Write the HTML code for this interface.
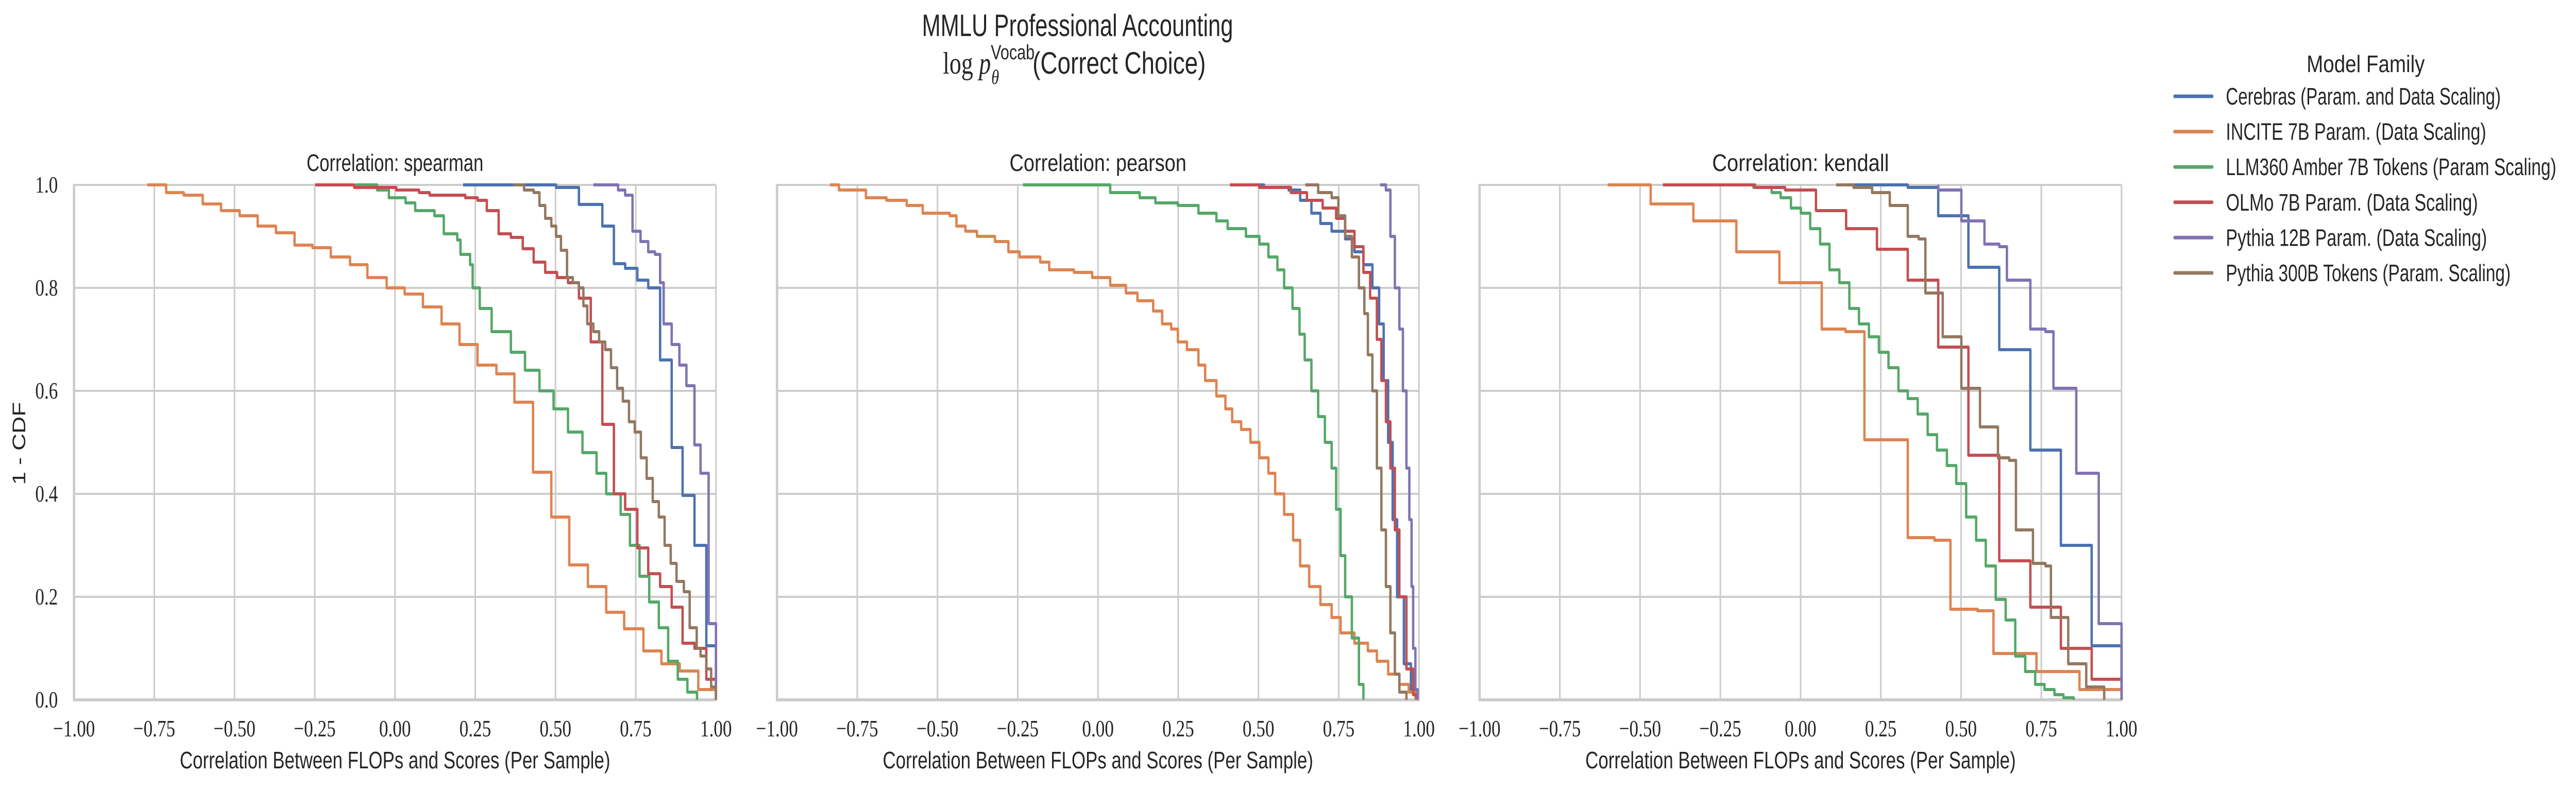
<!DOCTYPE html>
<html><head><meta charset="utf-8"><style>
html,body{margin:0;padding:0;background:#fff;overflow:hidden;width:100vw;height:100vh;}
svg{display:block;width:100vw;height:100vh;}
</style></head><body>
<svg id="fig" viewBox="0 0 6541 1536" preserveAspectRatio="none" xmlns="http://www.w3.org/2000/svg">
<rect width="6541" height="1536" fill="#fff"/>
<g font-family="'Liberation Sans', sans-serif" fill="#262626" text-anchor="middle">
<text x="2736" y="70" font-size="60" textLength="790" lengthAdjust="spacingAndGlyphs">MMLU Professional Accounting</text>
<text x="2728" y="143" font-size="60"><tspan font-family="'Liberation Serif', serif">log </tspan><tspan font-family="'Liberation Serif', serif" font-style="italic">p</tspan><tspan font-size="40" dy="-28">Vocab</tspan><tspan font-size="40" dy="48" dx="-110" font-family="'Liberation Serif', serif" font-style="italic">θ</tspan><tspan dy="-20" dx="85">(Correct Choice)</tspan></text>
</g>
<g id="panels"></g>
<g id="legend"></g>
</svg>
<script>
const seriesNames = ["Cerebras (Param. and Data Scaling)","INCITE 7B Param. (Data Scaling)","LLM360 Amber 7B Tokens (Param Scaling)","OLMo 7B Param. (Data Scaling)","Pythia 12B Param. (Data Scaling)","Pythia 300B Tokens (Param. Scaling)"];
const seriesColors = ["#4c72b0","#dd8452","#55a868","#c44e52","#8172b3","#937860"];
const panelTitles = ["Correlation: spearman","Correlation: pearson","Correlation: kendall"];
const xTicks = [-1,-0.75,-0.5,-0.25,0,0.25,0.5,0.75,1];
const xTickLabels = ["\u22121.00","\u22120.75","\u22120.50","\u22120.25","0.00","0.25","0.50","0.75","1.00"];
const yTicks = [0,0.2,0.4,0.6,0.8,1.0];
const yTickLabels = ["0.0","0.2","0.4","0.6","0.8","1.0"];

// spearman
const spCerebrasStart = 0.212;
const spCerebrasX = [0.502,0.573,0.646,0.682,0.717,0.755,0.789,0.826,0.862,0.896,0.933,0.970,1.0];
const spCerebrasY = [0.995,0.962,0.92,0.847,0.838,0.815,0.80,0.66,0.49,0.397,0.30,0.105,0];
const spInciteStart = -0.772;
const spInciteX = [-0.713,-0.658,-0.599,-0.542,-0.484,-0.428,-0.371,-0.313,-0.257,-0.2,-0.14,-0.086,-0.026,0.03,0.087,0.145,0.201,0.257,0.316,0.372,0.43,0.487,0.543,0.601,0.658,0.714,0.774,0.83,0.887,0.945,1.0];
const spInciteY = [0.985,0.98,0.963,0.95,0.94,0.92,0.907,0.883,0.878,0.86,0.845,0.82,0.80,0.788,0.763,0.73,0.69,0.65,0.633,0.578,0.442,0.355,0.262,0.22,0.17,0.138,0.095,0.07,0.056,0.02,0];
const spAmberStart = -0.123;
const spAmberX = [-0.056,-0.019,0.033,0.063,0.123,0.152,0.194,0.204,0.234,0.242,0.264,0.301,0.361,0.405,0.450,0.494,0.539,0.584,0.628,0.658,0.703,0.732,0.762,0.792,0.822,0.851,0.881,0.911,0.941];
const spAmberY = [0.99,0.975,0.965,0.95,0.94,0.905,0.893,0.865,0.845,0.80,0.76,0.715,0.675,0.64,0.60,0.565,0.52,0.48,0.44,0.40,0.36,0.30,0.24,0.19,0.14,0.075,0.04,0.015,0];
const spOlmoStart = -0.249;
const spOlmoX = [-0.127,0.004,0.075,0.108,0.219,0.257,0.286,0.323,0.361,0.398,0.432,0.468,0.505,0.539,0.573,0.610,0.646,0.682,0.717,0.755,0.789,0.826,0.862,0.896,0.933,0.970,1.0];
const spOlmoY = [0.995,0.99,0.985,0.98,0.975,0.97,0.95,0.905,0.898,0.876,0.85,0.83,0.82,0.81,0.78,0.695,0.535,0.40,0.37,0.295,0.245,0.22,0.18,0.11,0.10,0.04,0];
const spP12Start = 0.618;
const spP12X = [0.695,0.717,0.740,0.765,0.789,0.81,0.826,0.837,0.862,0.886,0.908,0.933,0.952,0.977,1.0];
const spP12Y = [0.99,0.98,0.91,0.89,0.87,0.865,0.81,0.73,0.69,0.65,0.61,0.495,0.44,0.148,0];
const spP300Start = 0.368;
const spP300X = [0.402,0.432,0.45,0.468,0.487,0.502,0.517,0.536,0.554,0.573,0.587,0.599,0.618,0.636,0.655,0.673,0.692,0.710,0.729,0.747,0.766,0.784,0.803,0.822,0.840,0.859,0.877,0.900,0.918,0.94,0.952,0.970,0.985,1.0];
const spP300Y = [0.99,0.985,0.96,0.935,0.92,0.90,0.873,0.82,0.81,0.80,0.765,0.73,0.715,0.695,0.68,0.645,0.605,0.58,0.54,0.52,0.47,0.43,0.385,0.355,0.30,0.265,0.23,0.21,0.14,0.10,0.085,0.06,0.025,0];

// pearson
const peCerebrasStart = 0.411;
const peCerebrasX = [0.517,0.594,0.630,0.665,0.693,0.728,0.770,0.799,0.827,0.855,0.876,0.890,0.904,0.918,0.932,0.953,0.975,0.993];
const peCerebrasY = [0.995,0.99,0.97,0.945,0.925,0.91,0.895,0.87,0.845,0.80,0.73,0.62,0.50,0.35,0.20,0.07,0.02,0];
const peInciteStart = -0.835;
const peInciteX = [-0.807,-0.723,-0.659,-0.596,-0.546,-0.462,-0.441,-0.413,-0.377,-0.321,-0.279,-0.244,-0.180,-0.152,-0.075,-0.018,0.038,0.087,0.123,0.172,0.2,0.228,0.249,0.277,0.313,0.334,0.369,0.397,0.418,0.446,0.475,0.503,0.531,0.552,0.580,0.608,0.630,0.658,0.693,0.728,0.756,0.799,0.841,0.869,0.904,0.939,0.968,0.989];
const peInciteY = [0.99,0.975,0.97,0.96,0.945,0.94,0.92,0.91,0.90,0.89,0.87,0.86,0.85,0.835,0.83,0.82,0.805,0.79,0.775,0.755,0.73,0.72,0.695,0.68,0.65,0.62,0.59,0.565,0.54,0.525,0.50,0.47,0.44,0.40,0.36,0.31,0.26,0.22,0.185,0.16,0.13,0.11,0.095,0.075,0.05,0.03,0.015,0];
const peAmberStart = -0.234;
const peAmberX = [0.038,0.130,0.179,0.249,0.313,0.369,0.404,0.461,0.503,0.531,0.559,0.580,0.606,0.628,0.644,0.665,0.686,0.707,0.728,0.742,0.756,0.770,0.791,0.813,0.827];
const peAmberY = [0.985,0.975,0.965,0.96,0.945,0.93,0.915,0.90,0.885,0.86,0.835,0.80,0.76,0.71,0.66,0.60,0.55,0.50,0.45,0.37,0.28,0.20,0.12,0.03,0];
const peOlmoStart = 0.411;
const peOlmoX = [0.503,0.601,0.651,0.700,0.742,0.770,0.799,0.827,0.848,0.869,0.883,0.897,0.911,0.925,0.939,0.961,0.982,0.993];
const peOlmoY = [0.995,0.985,0.97,0.955,0.935,0.91,0.88,0.83,0.78,0.70,0.62,0.54,0.45,0.33,0.20,0.06,0.01,0];
const peP12Start = 0.879;
const peP12X = [0.897,0.911,0.925,0.939,0.950,0.961,0.970,0.977,0.982,0.989,0.996];
const peP12Y = [0.99,0.90,0.80,0.72,0.60,0.45,0.35,0.22,0.10,0.02,0];
const peP300Start = 0.646;
const peP300X = [0.686,0.728,0.749,0.770,0.791,0.813,0.830,0.841,0.855,0.869,0.883,0.897,0.911,0.925,0.939,0.961];
const peP300Y = [0.985,0.975,0.94,0.90,0.86,0.80,0.75,0.67,0.60,0.45,0.33,0.22,0.13,0.05,0.015,0];

// kendall
const keCerebrasStart = 0.142;
const keCerebrasX = [0.334,0.429,0.523,0.619,0.716,0.811,0.907,1.0];
const keCerebrasY = [0.995,0.94,0.84,0.68,0.485,0.30,0.105,0];
const keInciteStart = -0.601;
const keInciteX = [-0.467,-0.334,-0.200,-0.066,0.066,0.140,0.199,0.334,0.417,0.467,0.551,0.601,0.735,0.869,1.0];
const keInciteY = [0.963,0.93,0.87,0.81,0.72,0.715,0.505,0.315,0.31,0.176,0.173,0.09,0.055,0.02,0];
const keAmberStart = -0.214;
const keAmberX = [-0.147,-0.090,-0.062,-0.030,0.001,0.030,0.061,0.090,0.121,0.152,0.182,0.213,0.244,0.274,0.305,0.334,0.365,0.396,0.425,0.456,0.485,0.516,0.547,0.577,0.608,0.639,0.669,0.700,0.731,0.760,0.791,0.819,0.851];
const keAmberY = [0.995,0.985,0.975,0.955,0.945,0.915,0.885,0.835,0.81,0.76,0.73,0.705,0.675,0.645,0.60,0.585,0.555,0.515,0.485,0.455,0.42,0.355,0.31,0.26,0.195,0.155,0.085,0.055,0.03,0.02,0.01,0.004,0];
const keOlmoStart = -0.429;
const keOlmoX = [-0.142,-0.048,0.048,0.142,0.238,0.334,0.429,0.523,0.619,0.716,0.811,0.907,1.0];
const keOlmoY = [0.995,0.99,0.95,0.915,0.875,0.815,0.685,0.475,0.27,0.18,0.10,0.04,0];
const keP12Start = 0.429;
const keP12X = [0.429,0.501,0.573,0.619,0.643,0.716,0.763,0.788,0.859,0.929,1.0];
const keP12Y = [0.99,0.93,0.885,0.88,0.815,0.72,0.715,0.605,0.44,0.148,0];
const keP300Start = 0.111;
const keP300X = [0.165,0.223,0.278,0.334,0.368,0.389,0.443,0.501,0.559,0.615,0.650,0.671,0.724,0.763,0.780,0.834,0.890,0.946];
const keP300Y = [0.995,0.985,0.96,0.90,0.895,0.79,0.705,0.605,0.53,0.47,0.465,0.33,0.265,0.26,0.16,0.07,0.025,0];

const panelSeries = [
  [[spCerebrasStart,spCerebrasX,spCerebrasY],[spInciteStart,spInciteX,spInciteY],[spAmberStart,spAmberX,spAmberY],[spOlmoStart,spOlmoX,spOlmoY],[spP12Start,spP12X,spP12Y],[spP300Start,spP300X,spP300Y]],
  [[peCerebrasStart,peCerebrasX,peCerebrasY],[peInciteStart,peInciteX,peInciteY],[peAmberStart,peAmberX,peAmberY],[peOlmoStart,peOlmoX,peOlmoY],[peP12Start,peP12X,peP12Y],[peP300Start,peP300X,peP300Y]],
  [[keCerebrasStart,keCerebrasX,keCerebrasY],[keInciteStart,keInciteX,keInciteY],[keAmberStart,keAmberX,keAmberY],[keOlmoStart,keOlmoX,keOlmoY],[keP12Start,keP12X,keP12Y],[keP300Start,keP300X,keP300Y]]
];

const NS = "http://www.w3.org/2000/svg";
function mk(tag, attrs, parent){const e=document.createElementNS(NS,tag);for(const k in attrs)e.setAttribute(k,attrs[k]);if(parent)parent.appendChild(e);return e;}
const panelLeft = [188,1973,3757];
const panelW = 1630, axTop = 359, axBottom = 1359;
const panelKeys = ["spearman","pearson","kendall"];
const panelsG = document.getElementById("panels");

panelLeft.forEach((L, p) => {
  const xs = v => L + (v + 1) / 2 * panelW;
  const ys = v => axBottom - v * (axBottom - axTop);
  const g = mk("g", {}, panelsG);
  
  
  const grid = mk("g", {stroke:"#cccccc","stroke-width":4}, g);
  
  
  xTicks.forEach(t => mk("line",{x1:xs(t),x2:xs(t),y1:axTop,y2:axBottom},grid));
  yTicks.forEach(t => mk("line",{x1:L,x2:L+panelW,y1:ys(t),y2:ys(t)},grid));
  const sp = mk("path",{d:`M${L},${axTop-2}V${axBottom}H${L+panelW+2}`,stroke:"#cccccc","stroke-width":6,fill:"none"},g);
  
  
  panelSeries[p].forEach((s, i) => {
    const [start, X, Y] = s;
    let d = `M${xs(start).toFixed(1)},${ys(1).toFixed(1)}`;
    for (let k = 0; k < X.length; k++) d += `H${xs(X[k]).toFixed(1)}V${ys(Y[k]).toFixed(1)}`;
    const path = mk("path",{d:d,fill:"none",stroke:seriesColors[i],"stroke-width":6,"stroke-linejoin":"round","stroke-linecap":"butt"},g);
    
    
  });
  xTicks.forEach((t, k) => {
    const tx = mk("text",{x:xs(t),y:1430,"font-size":46,"font-family":"'Liberation Serif', serif",fill:"#262626","text-anchor":"middle"},g);
    tx.textContent = xTickLabels[k];
    
    
  });
  if (p === 0) {
    yTicks.forEach((t, k) => {
      const ty = mk("text",{x:147,y:ys(t)+15,"font-size":46,"font-family":"'Liberation Serif', serif",fill:"#262626","text-anchor":"end"},g);
      ty.textContent = yTickLabels[k];
      
      
    });
    const yl = mk("text",{x:0,y:0,transform:"translate(64,861) rotate(-90)","font-size":46,"font-family":"'Liberation Sans', sans-serif",fill:"#262626","text-anchor":"middle"},g);
    yl.textContent = "1 - CDF";
    
    
  }
  const xl = mk("text",{x:L+panelW/2,y:1492,"font-size":46,"font-family":"'Liberation Sans', sans-serif",fill:"#262626","text-anchor":"middle",textLength:1093,lengthAdjust:"spacingAndGlyphs"},g);
  xl.textContent = "Correlation Between FLOPs and Scores (Per Sample)";
  
  
  const pt = mk("text",{x:L+panelW/2,y:332,"font-size":46,"font-family":"'Liberation Sans', sans-serif",fill:"#262626","text-anchor":"middle",textLength:449,lengthAdjust:"spacingAndGlyphs"},g);
  pt.textContent = panelTitles[p];
  
  
});

const legendWidths = [698,661,839,640,663,723];
const lg = document.getElementById("legend");
const lt = mk("text",{x:6007,y:140,"font-size":46,"font-family":"'Liberation Sans', sans-serif",fill:"#262626","text-anchor":"middle",textLength:300,lengthAdjust:"spacingAndGlyphs"},lg);
lt.textContent = "Model Family";


seriesNames.forEach((n, i) => {
  const y = 187 + i * 68.6;
  const eg = mk("g", {}, lg);
  
  
  mk("line",{x1:5522,x2:5617,y1:y,y2:y,stroke:seriesColors[i],"stroke-width":7,"stroke-linecap":"round"},eg);
  const t = mk("text",{x:5652,y:y+16,"font-size":46,"font-family":"'Liberation Sans', sans-serif",fill:"#262626",textLength:legendWidths[i],lengthAdjust:"spacingAndGlyphs"},eg);
  t.textContent = n;
});
</script>
</body></html>
